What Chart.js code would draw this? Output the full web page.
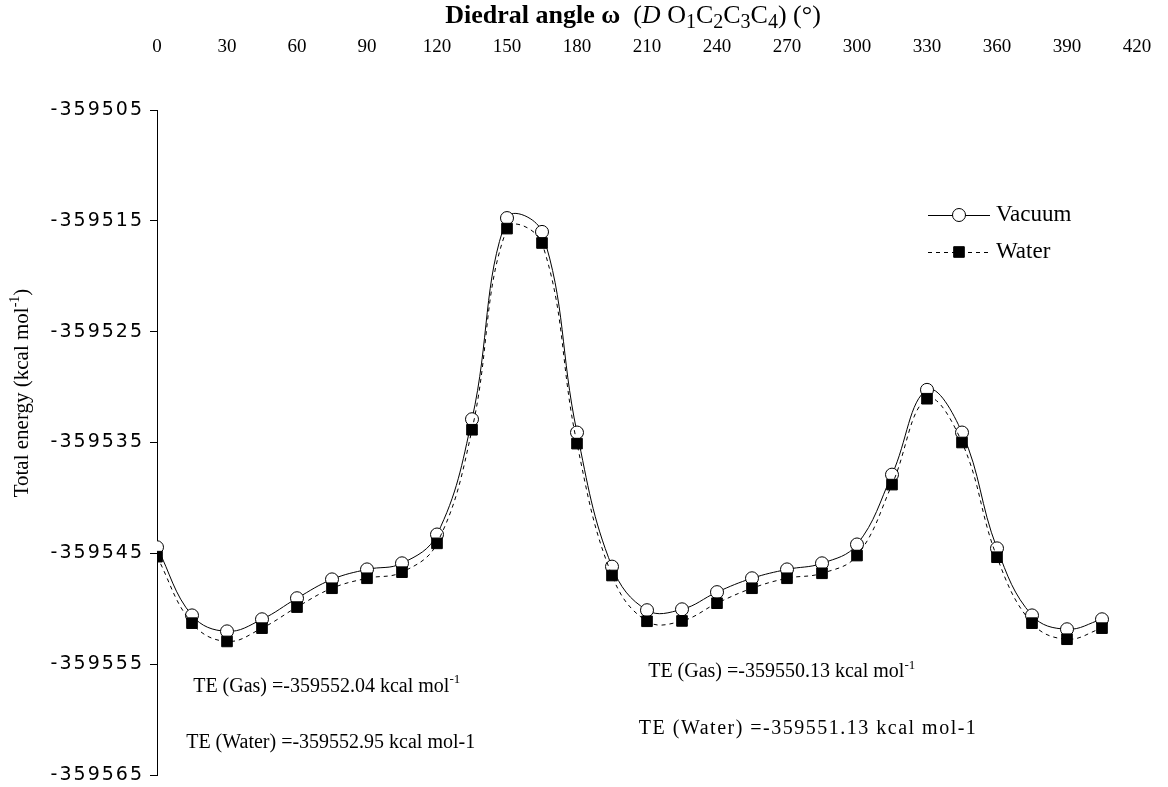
<!DOCTYPE html>
<html><head><meta charset="utf-8">
<script src="https://cdn.jsdelivr.net/npm/chart.js@4.4.1/dist/chart.umd.min.js"></script>
<style>html,body{margin:0;padding:0;background:#fff;}#wrap{width:1168px;height:787px;}</style>
</head><body><div id="wrap"><canvas id="c" width="1168" height="787"></canvas></div>
<script>
// ---- data ----
const angles = [0,15,30,45,60,75,90,105,120,135,150,165,180,195,210,225,240,255,270,285,300,315,330,345,360,375,390,405];
const vacuum = [-359544.45,-359550.6,-359552.04,-359550.95,-359549.05,-359547.35,-359546.45,-359545.9,-359543.3,-359532.9,-359514.75,-359516.0,-359534.1,-359546.2,-359550.13,-359550.05,-359548.5,-359547.25,-359546.45,-359545.9,-359544.2,-359537.9,-359530.25,-359534.1,-359544.55,-359550.6,-359551.85,-359550.95];
const water = [-359545.3,-359551.3,-359552.95,-359551.75,-359549.85,-359548.15,-359547.25,-359546.7,-359544.1,-359533.85,-359515.7,-359517.0,-359535.1,-359547.0,-359551.13,-359551.1,-359549.5,-359548.15,-359547.25,-359546.8,-359545.2,-359538.8,-359531.05,-359535.0,-359545.35,-359551.3,-359552.75,-359551.75];
const xTicks = [0,30,60,90,120,150,180,210,240,270,300,330,360,390,420];
const yTicks = [-359505,-359515,-359525,-359535,-359545,-359555,-359565];
const seriesNames = ['Vacuum','Water'];
const titleRuns = [['Diedral angle ω','b'],['  (','n'],['D','i'],[' O','n'],['1','s'],['C','n'],['2','s'],['C','n'],['3','s'],['C','n'],['4','s'],[') (°)','n']];
const yTitleRuns = [['Total energy (kcal mol','n'],['-1','p'],[')','n']];
// annotations: [x (deg), y (energy), runs, extra letter spacing]
const notes = [
  [15.5, -359557.0, [['TE (Gas) =-359552.04 kcal mol','n'],['-1','p']], 0],
  [12.5, -359562.1, [['TE (Water) =-359552.95 kcal mol-1','n']], 0],
  [210.5, -359555.7, [['TE (Gas) =-359550.13 kcal mol','n'],['-1','p']], 0],
  [206.5, -359560.85, [['TE (Water) =-359551.13 kcal mol-1','n']], 1.5]
];

const SERIF = '"Liberation Serif", "Times New Roman", serif';
function fontFor(kind, size){
  if (kind==='b') return 'bold '+size+'px '+SERIF;
  if (kind==='i') return 'italic '+size+'px '+SERIF;
  if (kind==='s') return Math.round(size*0.75)+'px '+SERIF;
  if (kind==='p') return Math.round(size*0.65)+'px '+SERIF;
  return size+'px '+SERIF;
}
function drawRuns(ctx, runs, x, y, size, align, ls){
  ctx.save();
  ctx.textBaseline = 'middle';
  ctx.textAlign = 'left';
  ctx.fillStyle = '#000';
  ctx.letterSpacing = (ls || 0) + 'px';
  let w = 0;
  for (const r of runs){ ctx.font = fontFor(r[1], size); w += ctx.measureText(r[0]).width; }
  let cx = align==='center' ? x - w/2 : x;
  for (const r of runs){
    ctx.font = fontFor(r[1], size);
    let dy = 0;
    if (r[1]==='s') dy = size*0.25;
    if (r[1]==='p') dy = -size*0.33;
    ctx.fillText(r[0], cx, y+dy);
    cx += ctx.measureText(r[0]).width;
  }
  ctx.restore();
}

const textPlugin = {
  id: 'richText',
  afterDraw(chart){
    const ctx = chart.ctx;
    const xs = chart.scales.x, ys = chart.scales.y;
    const area = chart.chartArea;
    // top title
    drawRuns(ctx, titleRuns, 633, 16, 26, 'center');
    // y title (rotated)
    ctx.save();
    ctx.translate(22, 393);
    ctx.rotate(-Math.PI/2);
    drawRuns(ctx, yTitleRuns, 0, 0, 21, 'center');
    ctx.restore();
    // annotations
    for (const n of notes){
      drawRuns(ctx, n[2], xs.getPixelForValue(n[0]), ys.getPixelForValue(n[1]), 20, 'left', n[3]);
    }
    // legend
    const lx0 = area.right - 209, lx1 = area.right - 147, ly0 = area.top + 105, gap = 37;
    chart.data.datasets.forEach((ds, i) => {
      const y = ly0 + i*gap;
      ctx.save();
      ctx.strokeStyle = '#000'; ctx.lineWidth = 1;
      ctx.setLineDash(ds.borderDash || []);
      ctx.beginPath(); ctx.moveTo(lx0, y+0.5); ctx.lineTo(lx1, y+0.5); ctx.stroke();
      ctx.setLineDash([]);
      const mx = (lx0+lx1)/2;
      ctx.beginPath();
      if (ds.pointStyle === 'circle'){
        ctx.arc(mx, y, ds.pointRadius, 0, Math.PI*2);
      } else {
        const s = ds.pointRadius*Math.SQRT1_2;
        ctx.rect(mx-s, y-s, 2*s, 2*s);
      }
      ctx.fillStyle = ds.pointBackgroundColor; ctx.fill(); ctx.stroke();
      ctx.restore();
      drawRuns(ctx, [[ds.label,'n']], lx1+6, y, 23, 'left');
    });
  }
};

function patchLabels(s){
  if (s._lsPatched) return;
  const orig = s.drawLabels.bind(s);
  s.drawLabels = function(ca){
    const c = this.ctx; c.save(); c.letterSpacing = '2px'; orig(ca); c.restore();
  };
  s._lsPatched = true;
}

new Chart(document.getElementById('c'), {
  type: 'line',
  data: {
    datasets: [
      { label: seriesNames[0], data: angles.map((a,i)=>({x:a, y:vacuum[i]})),
        borderColor:'#000', borderWidth:1, tension:0.4, fill:false,
        pointStyle:'circle', pointRadius:6.5, pointBackgroundColor:'#fff', pointBorderColor:'#000', pointBorderWidth:1, order:1 },
      { label: seriesNames[1], data: angles.map((a,i)=>({x:a, y:water[i]})),
        borderColor:'#000', borderWidth:1, borderDash:[4,4], tension:0.4, fill:false,
        pointStyle:'rect', pointRadius:7.5, pointBackgroundColor:'#000', pointBorderColor:'#000', pointBorderWidth:1, order:0 }
    ]
  },
  options: {
    responsive:false, animation:false, devicePixelRatio:1,
    layout:{ padding:{ left:0, top:0, right:31, bottom:12 } },
    plugins:{ legend:{display:false}, tooltip:{enabled:false}, title:{display:false} },
    scales:{
      x:{ type:'linear', position:'top', min:0, max:420,
        afterBuildTicks: s => { s.ticks = xTicks.map(v=>({value:v})); },
        afterFit: s => { s.height = 110; s.paddingLeft = 0; s.paddingRight = 0; },
        grid:{ display:false, drawTicks:false }, border:{ display:false },
        ticks:{ color:'#000', font:{ family:SERIF, size:19 }, padding:52, maxRotation:0, autoSkip:false } },
      y:{ type:'linear', min:-359565, max:-359505,
        afterBuildTicks: s => { s.ticks = yTicks.map(v=>({value:v})); },
        afterFit: s => { s.width = 157; s.paddingTop = 0; s.paddingBottom = 0; patchLabels(s); },
        grid:{ display:true, drawOnChartArea:false, drawTicks:true, tickLength:7, color:'#000' },
        border:{ display:true, color:'#000', width:1 },
        ticks:{ color:'#000', font:{ family:'"DejaVu Sans", Tahoma, sans-serif', size:19 }, padding:6, callback: v => String(v) } }
    }
  },
  plugins:[textPlugin]
});
</script>
</body></html>
